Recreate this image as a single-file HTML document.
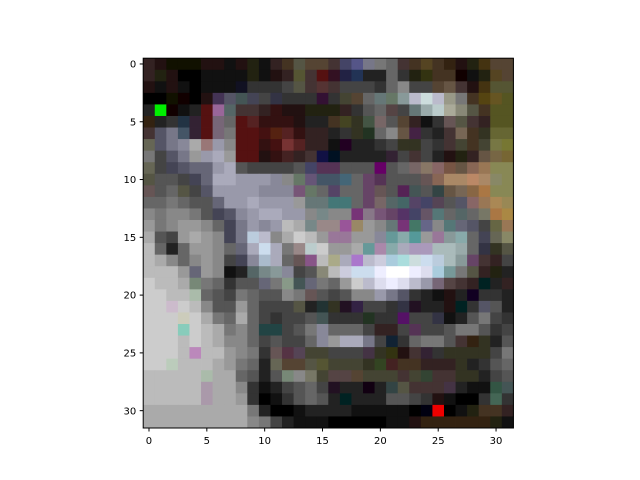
<!DOCTYPE html>
<html><head><meta charset="utf-8"><style>
body{margin:0;background:#fff;}
svg{display:block;font-family:"DejaVu Sans","Liberation Sans",sans-serif;}
</style></head><body>
<svg id="chart" width="640" height="480" viewBox="0 0 640 480" xmlns="http://www.w3.org/2000/svg">
<rect width="640" height="480" fill="#fff"/>
<g id="cells"></g>
<rect x="143.2" y="58.2" width="370.2" height="369.8" fill="none" stroke="#000" stroke-width="1"/>
<g id="xt"></g>
<g id="yt"></g>
</svg>
<script>
const pixelRows = [
"322 211 110 110 110 211 211 111 211 221 111 322 432 554 543 543 433 446 558 778 777 666 433 432 542 432 321 211 221 431 543 543",
"322 221 211 000 000 111 111 111 111 221 111 211 322 553 433 511 312 224 235 222 222 666 333 221 331 432 432 100 111 221 542 543",
"211 111 211 111 000 111 111 111 112 333 333 333 444 554 433 533 433 444 444 444 333 666 888 444 444 543 654 433 211 431 553 553",
"000 000 110 100 000 211 435 556 455 445 444 334 333 333 333 313 333 443 543 666 677 676 899 bbc cdd bbc 998 777 432 541 652 552",
"222 0e0 100 111 222 511 969 566 433 433 322 311 211 211 221 221 221 322 333 555 666 544 444 677 9aa bcc aa9 887 554 432 552 552",
"321 222 333 234 323 511 767 666 511 522 311 311 311 211 222 222 432 442 332 454 766 555 543 322 111 333 655 554 433 322 552 552",
"433 556 778 456 323 511 767 777 511 511 411 521 522 311 322 322 222 333 332 232 666 888 654 424 333 222 433 765 432 332 663 663",
"665 556 778 889 aaa 977 99a 888 511 511 311 411 733 522 322 322 111 202 222 222 333 444 332 332 444 333 433 443 432 443 774 773",
"777 444 556 778 999 99a aab 999 511 511 211 311 422 322 433 114 012 222 222 222 222 323 444 433 444 222 211 221 322 654 764 763",
"665 444 445 556 667 667 99a aab 555 444 444 444 444 555 446 535 535 555 555 555 606 555 666 766 876 866 754 654 865 975 885 885",
"554 555 555 444 445 667 aab aab 99a 99a 99a 889 888 676 657 456 456 467 666 646 535 555 555 555 655 865 a86 a86 b86 a86 886 885",
"655 555 666 554 444 556 99a 99a 99a 99a 889 889 889 757 676 666 546 666 666 646 655 555 525 455 555 344 654 765 864 a74 885 885",
"666 666 777 666 555 555 667 99a 99a aab 99a 99a 99a 999 677 677 477 477 666 646 766 566 466 546 446 545 555 556 866 975 a85 985",
"888 777 888 888 777 555 445 556 889 99a aab aab 99a 99a 888 788 888 888 737 878 757 646 536 446 656 577 666 566 666 776 a74 a84",
"999 777 888 999 999 888 666 445 778 99a 889 99a bbb aaa 788 988 988 959 986 999 888 677 737 476 668 888 577 667 556 444 664 975",
"aaa 555 444 999 aaa 999 888 445 778 bcd bbc 888 aaa ccc bbb 999 979 979 999 999 889 699 8aa 599 999 979 899 8aa 666 445 665 886",
"bbb 666 222 666 999 999 888 666 667 aab cde aab 777 988 bcc ccc 999 999 aaa 699 a8a 8aa aab a9b a9b abb abb 9aa 666 334 332 554",
"bbb aaa 888 666 888 999 888 444 445 889 abc aab 666 655 858 bbb aa8 aab a7c bbc ccd acd add cdd cde bcd abb 899 646 433 322 444",
"bbb bbb bbb 999 667 999 888 111 222 566 788 899 889 444 555 887 bbb ccd cde cde eef fff fff eef dde acd 799 777 554 322 221 222",
"ccc bbb bbb aaa 787 777 666 333 555 555 667 777 898 455 667 777 666 999 ccc bbc dde eef dde bbc 99a 767 544 433 322 022 222 322",
"ccc ccc bbb bbb aba 666 555 444 777 666 555 555 888 777 655 555 444 555 888 888 99a 778 556 333 222 111 211 222 102 333 333 222",
"ccc ccc cbc ccc bbb 888 555 555 999 666 444 444 444 554 222 233 332 212 324 444 444 333 334 212 222 222 211 022 333 556 555 222",
"ccc ccc ccc ccb ccc aaa 777 666 aaa 666 444 333 444 444 555 455 333 333 333 232 333 333 516 444 444 334 111 222 555 777 444 333",
"ccc ccc ccc 8cb ccc bbb aaa 777 888 666 244 244 444 555 777 889 666 666 666 444 322 322 444 535 444 444 555 777 777 555 333 444",
"ccc ccc ccc bbb ccc bbb aaa 888 888 666 444 555 444 444 666 889 999 aab aab 778 444 123 333 666 777 777 555 433 321 332 222 555",
"ccc ccc ccc bbb b8b bbb bbb 999 888 777 333 655 534 545 443 443 444 444 444 434 332 331 211 433 323 333 332 332 332 332 444 777",
"ccc ccc bcb bbb bbb bbb aaa 999 777 666 222 665 543 543 554 553 443 443 443 332 342 422 432 432 322 322 322 332 222 333 555 666",
"bbb bbb bbb bbb bbb aba aaa aaa 666 555 222 555 787 888 776 443 544 544 543 443 443 443 433 443 343 433 433 332 332 222 444 555",
"bbb bbb bbb bbb bbb a9a aaa aaa 888 333 111 222 444 555 666 444 212 222 222 101 222 344 554 433 433 433 434 222 111 111 354 455",
"bbb bbb bbb bbb bbb a9a aaa aaa 999 333 000 111 333 555 666 555 222 022 222 222 222 555 555 444 333 211 111 000 000 333 465 333",
"aaa aaa aaa aaa aaa aaa aaa aaa aaa 777 222 000 000 111 222 222 222 222 111 111 111 111 111 000 001 e00 000 111 221 432 432 322",
"aaa aaa aaa aaa aaa aaa aaa aaa aaa 888 777 444 222 111 111 111 000 000 000 000 000 111 111 211 321 321 321 321 321 321 221 111"
];
const xTicks = [0,5,10,15,20,25,30];
const yTicks = [0,5,10,15,20,25,30];
const NS="http://www.w3.org/2000/svg";
const x0=143.2, x1=513.4, y0=58.2, y1=428;
const n=pixelRows.length;
const sx=v=>x0+(v+0.5)*(x1-x0)/n;
const sy=v=>y0+(v+0.5)*(y1-y0)/n;
const cw=(x1-x0)/n, ch=(y1-y0)/n;
const cells=document.getElementById('cells');
pixelRows.forEach((row,r)=>{
  row.split(' ').forEach((c,k)=>{
    const e=document.createElementNS(NS,'rect');
    e.setAttribute('x',(sx(k)-cw/2).toFixed(2));
    e.setAttribute('y',(sy(r)-ch/2).toFixed(2));
    e.setAttribute('width',(cw+0.4).toFixed(2));
    e.setAttribute('height',(ch+0.4).toFixed(2));
    e.setAttribute('fill','#'+c);
    
    
    cells.appendChild(e);
  });
});
const xt=document.getElementById('xt');
xTicks.forEach(t=>{
  const l=document.createElementNS(NS,'line');
  l.setAttribute('x1',sx(t));l.setAttribute('x2',sx(t));
  l.setAttribute('y1',y1);l.setAttribute('y2',y1+3.5);
  l.setAttribute('stroke','#000');
  
  
  xt.appendChild(l);
  const s=document.createElementNS(NS,'text');
  s.setAttribute('x',sx(t));s.setAttribute('y',y1+16);
  s.setAttribute('text-anchor','middle');s.setAttribute('font-size','10');
  s.textContent=t;
  
  
  xt.appendChild(s);
});
const yt=document.getElementById('yt');
yTicks.forEach(t=>{
  const l=document.createElementNS(NS,'line');
  l.setAttribute('x1',x0-3.5);l.setAttribute('x2',x0);
  l.setAttribute('y1',sy(t));l.setAttribute('y2',sy(t));
  l.setAttribute('stroke','#000');
  
  
  yt.appendChild(l);
  const s=document.createElementNS(NS,'text');
  s.setAttribute('x',x0-7);s.setAttribute('y',sy(t)+3.6);
  s.setAttribute('text-anchor','end');s.setAttribute('font-size','10');
  s.textContent=t;
  
  
  yt.appendChild(s);
});
</script>
</body></html>
